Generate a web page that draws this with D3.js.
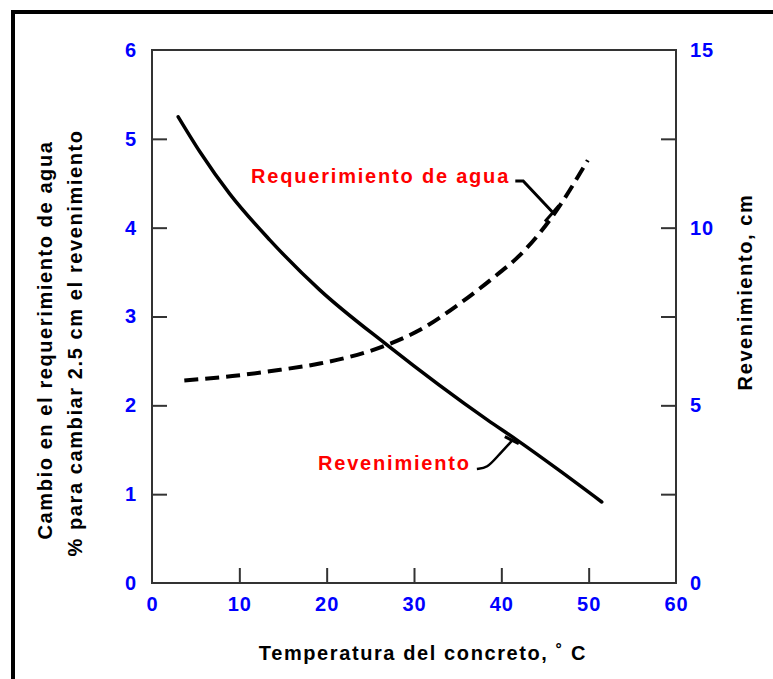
<!DOCTYPE html>
<html>
<head>
<meta charset="utf-8">
<script src="https://cdn.jsdelivr.net/npm/d3@7"></script>
<style>
  body { margin: 0; background: #fff; }
  text { font-family: "Liberation Sans", Arial, sans-serif; font-weight: bold; }
</style>
</head>
<body>
<svg id="chart" width="773" height="679"></svg>
<script>
// temperature (C) vs water requirement change (%)
var aguaTemp = [3.7, 9.2, 14.7, 19.2, 26.9, 30.7, 35.3, 39.5, 41.8, 45.8, 49.9];
var aguaPct  = [2.28, 2.33, 2.40, 2.47, 2.68, 2.85, 3.15, 3.47, 3.66, 4.12, 4.76];

// temperature (C) vs slump (cm), solid curve
var revTemp = [3.0, 5.5, 8.9, 13.5, 19.2, 26.9, 38.4, 41.8, 46.4, 51.5];
var revCm   = [13.12, 12.13, 10.95, 9.65, 8.25, 6.70, 4.59, 4.02, 3.21, 2.28];

var xTicks = [0, 10, 20, 30, 40, 50, 60];
var leftTicks = [0, 1, 2, 3, 4, 5, 6];
var rightTicks = [0, 2.5, 5, 7.5, 10, 12.5, 15];

var svg = d3.select('#chart');
var plot = {l: 152, r: 676, t: 50, b: 583};

var x = d3.scaleLinear().domain([0, 60]).range([plot.l, plot.r]);
var yL = d3.scaleLinear().domain([0, 6]).range([plot.b, plot.t]);
var yR = d3.scaleLinear().domain([0, 15]).range([plot.b, plot.t]);

// outer black frame (cut off on right and bottom)
svg.append('rect').attr('x', 13).attr('y', 12).attr('width', 800).attr('height', 700)
    .attr('fill', 'none').attr('stroke', '#000').attr('stroke-width', 4);

// axes, ticks pointing inward
var gx = svg.append('g').attr('transform', 'translate(0,' + plot.b + ')')
    .call(d3.axisBottom(x).tickValues(xTicks).tickSize(-15).tickPadding(14).tickFormat(d3.format('d')));
var gl = svg.append('g').attr('transform', 'translate(' + plot.l + ',0)')
    .call(d3.axisLeft(yL).tickValues(leftTicks).tickSize(-15).tickPadding(15).tickFormat(d3.format('d')));
var gr = svg.append('g').attr('transform', 'translate(' + plot.r + ',0)')
    .call(d3.axisRight(yR).tickValues(rightTicks).tickSize(-15).tickPadding(14)
        .tickFormat(function(d) { return d % 5 === 0 ? d : ''; }));

[gx, gl, gr].forEach(function(g) {
    g.select('.domain').remove();
    g.selectAll('.tick line').attr('stroke', '#333').attr('stroke-width', 2);
    g.selectAll('.tick text').attr('fill', '#0000ff').style('font-size', '20px')
        .style('font-family', '"Liberation Sans", Arial, sans-serif').style('font-weight', 'bold')
        .style('letter-spacing', '1px');
});
// no tick marks at the corners
gx.selectAll('.tick line').filter(function(d) { return d === 0 || d === 60; }).remove();
gl.selectAll('.tick line').filter(function(d) { return d === 0 || d === 6; }).remove();
gr.selectAll('.tick line').filter(function(d) { return d === 0 || d === 15; }).remove();

// plot box
svg.append('rect').attr('x', plot.l).attr('y', plot.t)
    .attr('width', plot.r - plot.l).attr('height', plot.b - plot.t)
    .attr('fill', 'none').attr('stroke', '#333').attr('stroke-width', 2);

// curves
var aguaLine = d3.line().curve(d3.curveMonotoneX)
    .x(function(d, i) { return x(aguaTemp[i]); })
    .y(function(d, i) { return yL(aguaPct[i]); });
var revLine = d3.line().curve(d3.curveMonotoneX)
    .x(function(d, i) { return x(revTemp[i]); })
    .y(function(d, i) { return yR(revCm[i]); });

svg.append('path').attr('d', aguaLine(aguaTemp))
    .attr('fill', 'none').attr('stroke', '#000').attr('stroke-width', 4)
    .attr('stroke-dasharray', '14,7');
svg.append('path').attr('d', revLine(revTemp))
    .attr('fill', 'none').attr('stroke', '#000').attr('stroke-width', 3.5)
    .attr('stroke-linecap', 'round');

// annotations with leader lines
var plain = d3.line().x(function(d) { return d[0]; }).y(function(d) { return d[1]; });

svg.append('text').attr('x', x(41.0)).attr('y', yL(4.58)).attr('dy', '0.35em')
    .attr('text-anchor', 'end').attr('fill', '#ff0000').style('font-size', '20px')
    .style('letter-spacing', '1.8px').text('Requerimiento de agua');
svg.append('path')
    .attr('d', plain([[x(41.6), yL(4.525)], [x(42.5), yL(4.525)], [x(45.9), yL(4.17)]]))
    .attr('fill', 'none').attr('stroke', '#000').attr('stroke-width', 3);
svg.append('path')
    .attr('d', plain([[x(45.0), yL(4.07)], [x(46.6), yL(4.25)]]))
    .attr('fill', 'none').attr('stroke', '#000').attr('stroke-width', 3);

svg.append('text').attr('x', x(36.5)).attr('y', yR(3.38)).attr('dy', '0.35em')
    .attr('text-anchor', 'end').attr('fill', '#ff0000').style('font-size', '20px')
    .style('letter-spacing', '1.8px').text('Revenimiento');
svg.append('path')
    .attr('d', d3.line().curve(d3.curveBasis)
        .x(function(d) { return x(d[0]); }).y(function(d) { return yR(d[1]); })
        ([[37.2, 3.21], [38.4, 3.24], [39.5, 3.55], [41.2, 4.0]]))
    .attr('fill', 'none').attr('stroke', '#000').attr('stroke-width', 2.5);
svg.append('path')
    .attr('d', plain([[x(40.4), yR(4.12)], [x(42.0), yR(3.92)]]))
    .attr('fill', 'none').attr('stroke', '#000').attr('stroke-width', 3);

// axis titles
var titleStyle = function(t) {
    t.attr('text-anchor', 'middle').style('font-size', '20px').style('letter-spacing', '1.6px');
};
svg.append('text').attr('transform', 'translate(52,340) rotate(-90)')
    .call(titleStyle).text('Cambio en el requerimiento de agua');
svg.append('text').attr('transform', 'translate(82,343) rotate(-90)')
    .call(titleStyle).text('% para cambiar 2.5 cm el revenimiento');
svg.append('text').attr('transform', 'translate(752,292) rotate(-90)')
    .call(titleStyle).text('Revenimiento, cm');
svg.append('text').attr('x', 423).attr('y', 660)
    .call(titleStyle).text('Temperatura del concreto, \u02DA C');
</script>
</body>
</html>
